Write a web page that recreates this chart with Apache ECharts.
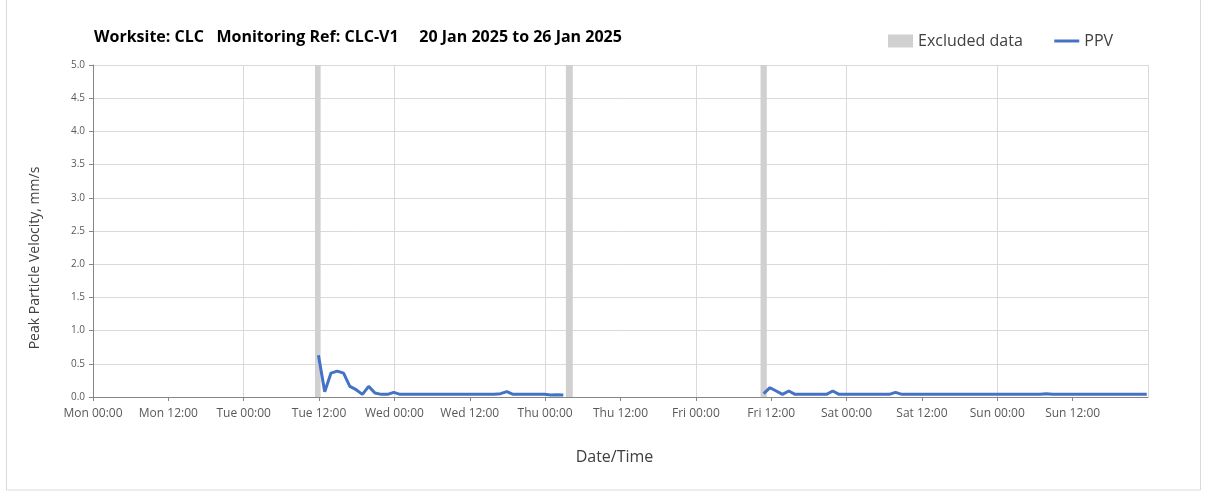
<!DOCTYPE html>
<html>
<head>
<meta charset="utf-8">
<script src="https://cdn.jsdelivr.net/npm/echarts@6/dist/echarts.min.js"></script>
<style>
  html, body { margin: 0; padding: 0; background: #fff; }
  #chartLine { width: 1207px; height: 492px; }
</style>
</head>
<body>
<div id="chartLine"></div>
<script>
// hours from Mon 00:00, one point every hour
var tickLabels = ['Mon 00:00', 'Mon 12:00', 'Tue 00:00', 'Tue 12:00', 'Wed 00:00', 'Wed 12:00', 'Thu 00:00',
  'Thu 12:00', 'Fri 00:00', 'Fri 12:00', 'Sat 00:00', 'Sat 12:00', 'Sun 00:00', 'Sun 12:00']
var excludedRanges = [[35.35, 36.25], [75.3, 76.4], [106.3, 107.3]]

var seg1Start = 35.9
var seg1 = [0.63, 0.08, 0.36, 0.39, 0.36, 0.16, 0.11, 0.04, 0.16, 0.06, 0.04, 0.04, 0.07, 0.04,
  0.04, 0.04, 0.04, 0.04, 0.04, 0.04, 0.04, 0.04, 0.04, 0.04, 0.04, 0.04, 0.04, 0.04, 0.04,
  0.05, 0.08, 0.04, 0.04, 0.04, 0.04, 0.04, 0.04, 0.03, 0.035, 0.03]

var seg2Start = 106.8
var seg2 = [0.05, 0.14, 0.09, 0.04, 0.09, 0.04, 0.04, 0.04, 0.04, 0.04, 0.04, 0.09,
  0.04, 0.04, 0.04, 0.04, 0.04, 0.04, 0.04, 0.04, 0.04, 0.07,
  0.04, 0.04, 0.04, 0.04, 0.04, 0.04, 0.04, 0.04, 0.04, 0.04, 0.04, 0.04,
  0.04, 0.04, 0.04, 0.04, 0.04, 0.04, 0.04, 0.04, 0.04, 0.04, 0.04, 0.05,
  0.04, 0.04, 0.04, 0.04, 0.04, 0.04, 0.04, 0.04, 0.04, 0.04, 0.04, 0.04, 0.04, 0.04, 0.04, 0.04]

var ppv = []
for (var i = 0; i < seg1.length; i++) {
  ppv.push([+(seg1Start + i).toFixed(2), seg1[i]])
}
ppv.push([(seg1Start + seg1.length + seg2Start) / 2, '-']) // gap, no data
for (var j = 0; j < seg2.length; j++) {
  ppv.push([+(seg2Start + j).toFixed(2), seg2[j]])
}

var fontFamily = 'Open Sans'
var chartLine = echarts.init(document.getElementById('chartLine'))
chartLine.setOption({
  animation: false,
  title: {
    text: 'Worksite: CLC   Monitoring Ref: CLC-V1     20 Jan 2025 to 26 Jan 2025',
    left: 89,
    top: 24,
    textStyle: { fontFamily: fontFamily, fontSize: 16, fontWeight: 'bold', color: '#000' }
  },
  legend: {
    left: 883,
    top: 28,
    itemWidth: 25,
    itemHeight: 13,
    itemGap: 30,
    textStyle: { fontFamily: fontFamily, fontSize: 16, color: '#404040' },
    data: [
      { name: 'Excluded data', icon: 'rect' },
      { name: 'PPV', itemStyle: { opacity: 0 }, lineStyle: { width: 3 } }
    ]
  },
  graphic: [
    {
      type: 'rect',
      shape: { x: 6.5, y: -5, width: 1194, height: 495 },
      style: { fill: 'none', stroke: '#d9d9d9', lineWidth: 1 },
      silent: true
    },
    {
      type: 'text',
      x: 35,
      y: 258,
      rotation: Math.PI / 2,
      style: {
        text: 'Peak Particle Velocity, mm/s',
        fontFamily: fontFamily,
        fontSize: 14,
        fill: '#404040',
        align: 'center',
        verticalAlign: 'middle'
      }
    }
  ],
  grid: { left: 93, right: 59, top: 65, bottom: 95 },
  xAxis: [
    {
      type: 'value',
      min: 0,
      max: 168,
      interval: 12,
      name: 'Date/Time',
      nameLocation: 'middle',
      nameGap: 52,
      nameTextStyle: { fontFamily: fontFamily, fontSize: 16, color: '#404040', padding: [0, 12, 0, 0] },
      axisLine: { show: true, lineStyle: { color: '#868686' } },
      axisTick: { show: true, length: 4, lineStyle: { color: '#868686' } },
      splitLine: { show: false },
      axisLabel: {
        showMaxLabel: false,
        fontFamily: fontFamily,
        fontSize: 12,
        color: '#595959',
        margin: 11,
        formatter: function (v) { return tickLabels[Math.round(v / 12)] || '' }
      }
    },
    {
      // only here for the daily vertical grid lines
      type: 'value',
      position: 'top',
      min: 0,
      max: 168,
      interval: 24,
      axisLine: { show: false },
      axisTick: { show: false },
      axisLabel: { show: false },
      splitLine: { show: true, lineStyle: { color: '#d9d9d9' } }
    }
  ],
  yAxis: {
    type: 'value',
    min: 0,
    max: 5,
    interval: 0.5,
    axisLine: { show: true, lineStyle: { color: '#868686' } },
    axisTick: { show: true, length: 4, lineStyle: { color: '#868686' } },
    splitLine: { show: true, lineStyle: { color: '#d9d9d9' } },
    axisLabel: {
      fontFamily: fontFamily,
      fontSize: 10,
      color: '#595959',
      margin: 8,
      formatter: function (v) { return v.toFixed(1) }
    }
  },
  series: [
    {
      name: 'Excluded data',
      type: 'line',
      data: [],
      itemStyle: { color: '#d0d0d0' },
      markArea: {
        silent: true,
        itemStyle: { color: '#d0d0d0' },
        data: excludedRanges.map(function (r) { return [{ xAxis: r[0] }, { xAxis: r[1] }] })
      }
    },
    {
      name: 'PPV',
      type: 'line',
      data: ppv,
      symbol: 'none',
      connectNulls: false,
      z: 5,
      itemStyle: { color: '#4472c4' },
      lineStyle: { color: '#4472c4', width: 3 }
    }
  ]
})
</script>
</body>
</html>
